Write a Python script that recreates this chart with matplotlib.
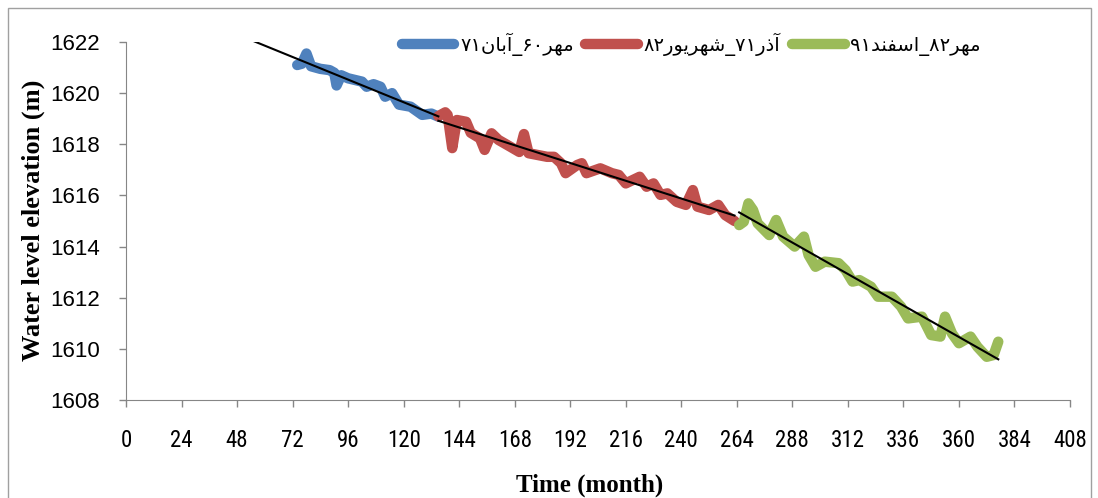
import re
import numpy as np
import matplotlib
matplotlib.use("Agg")
import matplotlib.pyplot as plt
from matplotlib import font_manager
from matplotlib.patches import Rectangle

# observation periods (month index, water level in m)
blue_month = [74, 76, 78, 80, 84, 88, 90, 91, 93, 96, 102, 104, 107, 110, 112, 115, 118, 123, 128, 132, 135]
blue_level = [1621.1, 1621.15, 1621.55, 1621.05, 1620.95, 1620.9, 1620.8, 1620.3, 1620.7, 1620.58,
              1620.45, 1620.25, 1620.35, 1620.25, 1619.86, 1620.0, 1619.55, 1619.47, 1619.15, 1619.2, 1619.08]

red_month = [135, 138, 139, 141, 143, 147, 149, 153, 155, 158, 161, 166, 170, 172, 174, 178, 182, 185, 188, 190,
             195, 197, 199, 205, 210, 213, 216, 222, 225, 228, 231, 234, 238, 242, 245, 247, 252, 256, 259, 263]
red_level = [1619.1, 1619.25, 1619.15, 1617.85, 1618.95, 1618.88, 1618.45, 1618.23, 1617.78, 1618.43,
             1618.17, 1617.91, 1617.7, 1618.4, 1617.65, 1617.58, 1617.51, 1617.51, 1617.26, 1616.87,
             1617.19, 1617.26, 1616.87, 1617.06, 1616.87, 1616.8, 1616.47, 1616.73, 1616.34, 1616.47,
             1616.02, 1616.08, 1615.75, 1615.63, 1616.21, 1615.56, 1615.43, 1615.63, 1615.23, 1615.0]

green_month = [265, 267, 269, 271, 273, 278, 281, 284, 289, 293, 295, 298, 302, 308, 311, 314, 317, 322, 325, 331,
               335, 338, 344, 348, 352, 354, 357, 360, 365, 368, 372, 375, 377]
green_level = [1614.84, 1614.97, 1615.69, 1615.43, 1614.91, 1614.45, 1615.04, 1614.39, 1614.0, 1614.39,
               1613.67, 1613.21, 1613.41, 1613.35, 1613.08, 1612.63, 1612.69, 1612.43, 1612.04, 1612.04,
               1611.65, 1611.19, 1611.26, 1610.54, 1610.48, 1611.26, 1610.6, 1610.22, 1610.48, 1610.08,
               1609.69, 1609.76, 1610.28]

labels = ["مهر۶۰_آبان۷۱", "آذر۷۱_شهریور۸۲", "مهر۸۲_اسفند۹۱"]
colors = ["#4F81BD", "#C0504D", "#9BBB59"]
backcast = [19, 0, 0]   # months the trend is extended backwards

x_ticks = list(range(0, 409, 24))
y_ticks = list(range(1608, 1623, 2))

# presentation forms: isolated, final, initial, medial
forms = {
    'ا': ('\uFE8D', '\uFE8E', None, None),
    'آ': ('\uFE81', '\uFE82', None, None),
    'ر': ('\uFEAD', '\uFEAE', None, None),
    'ذ': ('\uFEAB', '\uFEAC', None, None),
    'و': ('\uFEED', '\uFEEE', None, None),
    'د': ('\uFEA9', '\uFEAA', None, None),
    'ب': ('\uFE8F', '\uFE90', '\uFE91', '\uFE92'),
    'ن': ('\uFEE5', '\uFEE6', '\uFEE7', '\uFEE8'),
    'م': ('\uFEE1', '\uFEE2', '\uFEE3', '\uFEE4'),
    'ه': ('\uFEE9', '\uFEEA', '\uFEEB', '\uFEEC'),
    'ش': ('\uFEB5', '\uFEB6', '\uFEB7', '\uFEB8'),
    'س': ('\uFEB1', '\uFEB2', '\uFEB3', '\uFEB4'),
    'ف': ('\uFED1', '\uFED2', '\uFED3', '\uFED4'),
    'ی': ('\uFBFC', '\uFBFD', '\uFBFE', '\uFBFF'),
}


def shape(text):
    out = []
    for i, ch in enumerate(text):
        if ch not in forms:
            out.append(ch)
            continue
        prev = text[i - 1] if i > 0 else ''
        nxt = text[i + 1] if i + 1 < len(text) else ''
        jp = prev in forms and forms[prev][2] is not None
        jn = forms[ch][2] is not None and nxt in forms
        iso, fin, ini, med = forms[ch]
        out.append(med if jp and jn else fin if jp else ini if jn else iso)
    tokens = re.findall(r'[\u06F0-\u06F9]+|.', ''.join(out))
    return ''.join(reversed(tokens))


# narrow face for the month labels if one is around
installed = {f.name for f in font_manager.fontManager.ttflist}
narrow = next((n for n in ['Liberation Sans Narrow', 'Roboto Condensed'] if n in installed), None)
if narrow:
    xfont = dict(family=narrow, size=16.5)
else:
    xfont = dict(family='Liberation Sans', size=14)

fig = plt.figure(figsize=(10.98, 4.98), dpi=100)
ax = fig.add_axes([126 / 1098, 1 - 400 / 498, 944 / 1098, 358 / 498])

series = [(blue_month, blue_level), (red_month, red_level), (green_month, green_level)]
for (m, v), lab, c in zip(series, labels, colors):
    ax.plot(m, v, color=c, lw=7.5, solid_joinstyle='round', solid_capstyle='round',
            label=shape(lab), zorder=2)

for (m, v), back in zip(series, backcast):
    k, b = np.polyfit(m, v, 1)
    xs = np.array([m[0] - back, m[-1]])
    ax.plot(xs, k * xs + b, color='black', lw=1.5, zorder=3)

ax.set_xlim(0, 408)
ax.set_ylim(1608, 1622)
ax.set_xticks(x_ticks)
ax.set_yticks(y_ticks)
for s in ['top', 'right']:
    ax.spines[s].set_visible(False)
for s in ['left', 'bottom']:
    ax.spines[s].set_color('#868686')
ax.tick_params(direction='out', length=5, color='#868686', width=1)
ax.tick_params(axis='y', pad=14)
ax.tick_params(axis='x', pad=16)
for t in ax.get_yticklabels():
    t.set_fontfamily('Liberation Sans')
    t.set_fontsize(16)
for t in ax.get_xticklabels():
    t.set_fontfamily(xfont['family'])
    t.set_fontsize(xfont['size'])

ax.set_ylabel('Water level elevation (m)', family='Liberation Serif', weight='bold', fontsize=19)
ax.set_xlabel('Time (month)', family='Liberation Serif', weight='bold', fontsize=18)
ax.yaxis.set_label_coords(-0.086, 0.503)
ax.xaxis.set_label_coords(0.4915, -0.205)

leg = ax.legend(loc='upper left', bbox_to_anchor=(0.292, 1.025), ncol=3, frameon=False,
                borderaxespad=0, borderpad=0, handlelength=2.7, handletextpad=0.3,
                columnspacing=0.6, prop={'family': 'DejaVu Sans', 'size': 14})

fig.patches.append(Rectangle((8 / 1098, -0.1), 1083 / 1098, 1.1 - 8 / 498, transform=fig.transFigure,
                             fill=False, edgecolor='#A0A0A0', lw=1))

fig.savefig('out.png', dpi=100)
